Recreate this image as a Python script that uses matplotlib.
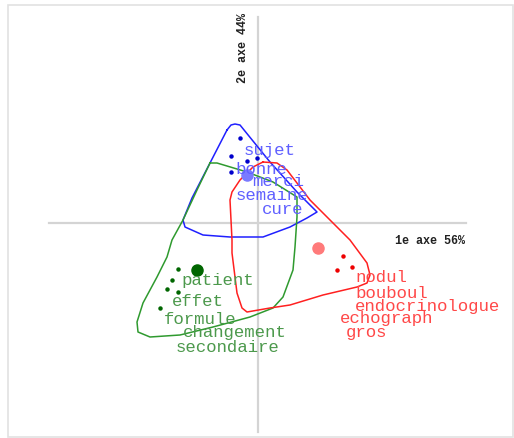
import matplotlib.pyplot as plt
from matplotlib.patches import Rectangle

# factor map coordinates (arbitrary units, origin at the axes cross)
blue_hull_x = [-31, -27, -23, -18, 12, 39, 57, 59, 49, 32, 5, -28, -55, -73, -75, -66, -48]
blue_hull_y = [93, 98, 99, 98, 61, 31, 13, 11, 5, -4, -14, -14, -12, -4, 3, 25, 60]
green_hull_x = [-48, -41, -11, 15, 39, 39, 37, 35, 25, 15, -8, -45, -78, -108, -120, -121, -115, -101, -91, -86, -75, -61]
green_hull_y = [60, 60, 51, 41, 26, 6, -24, -47, -74, -85, -94, -104, -112, -114, -109, -99, -80, -54, -34, -17, 3, 33]
red_hull_x = [5, 19, 29, 52, 72, 92, 109, 112, 109, 99, 65, 32, 12, -11, -16, -21, -26, -26, -28, -26, -18, -5]
red_hull_y = [61, 60, 53, 23, 3, -17, -40, -52, -60, -64, -72, -82, -85, -89, -85, -70, -30, -17, 23, 31, 43, 56]

blue_pts_x = [-18, -27, -11, -1, -27]
blue_pts_y = [85, 67, 62, 65, 51]
green_pts_x = [-80, -86, -91, -80, -98]
green_pts_y = [-46, -57, -66, -69, -85]
red_pts_x = [85, 94, 79]
red_pts_y = [-33, -44, -47]

centres_x = [-11, -61, 60]
centres_y = [48, -47, -25]

blue_words = ["sujet", "bonne", "merci", "semaine", "cure"]
blue_wx = [-14, -23, -6, -22, 4]
blue_wy = [72, 53, 41, 27, 14]
green_words = ["patient", "effet", "formule", "changement", "secondaire"]
green_wx = [-77, -86, -94, -75, -82]
green_wy = [-58, -78, -96, -109, -124]
red_words = ["nodul", "bouboul", "endocrinologue", "echograph", "gros"]
red_wx = [97, 97, 97, 82, 88]
red_wy = [-55, -70, -83, -96, -110]

fig = plt.figure(figsize=(5.14, 4.38), dpi=100)
ax = fig.add_axes([0, 0, 1, 1])
ax.set_xlim(-258, 256)
ax.set_ylim(-215, 223)
ax.axis('off')

fig.patches.append(Rectangle((8 / 514, 1 / 438), 505 / 514, 432 / 438, transform=fig.transFigure,
                             fill=False, edgecolor='#e2e2e2', linewidth=1.2))

ax.plot([-209, 208], [0, 0], color='#d4d4d4', lw=1.6, zorder=1)
ax.plot([0, 0], [206, -209], color='#d4d4d4', lw=1.6, zorder=1)
ax.text(137, -18, "1e axe 56%", family='Liberation Mono', weight='bold', fontsize=8.5,
        ha='left', va='center', color='#222222')
ax.text(-15, 175, "2e axe 44%", family='Liberation Mono', weight='bold', fontsize=8.5,
        ha='center', va='center', rotation=90, color='#222222')

groups = [
    (blue_hull_x, blue_hull_y, blue_pts_x, blue_pts_y, blue_words, blue_wx, blue_wy,
     '#2020ff', '#0000cc', '#7a7aff', '#6060ff'),
    (green_hull_x, green_hull_y, green_pts_x, green_pts_y, green_words, green_wx, green_wy,
     '#2f9a2f', '#006600', '#006600', '#4c994c'),
    (red_hull_x, red_hull_y, red_pts_x, red_pts_y, red_words, red_wx, red_wy,
     '#ff2020', '#ee0000', '#ff7a7a', '#ff4848'),
]

for i, (hx, hy, px, py, words, wx, wy, lc, dc, cc, tc) in enumerate(groups):
    ax.plot(hx + hx[:1], hy + hy[:1], color=lc, lw=1.1, zorder=2)
    ax.plot(px, py, 'o', color=dc, ms=2.2, zorder=3)
    ax.plot(centres_x[i], centres_y[i], 'o', color=cc, ms=8, zorder=3)
    for w, x, y in zip(words, wx, wy):
        ax.text(x, y, w, family='Liberation Mono', fontsize=12.5, color=tc,
                ha='left', va='center', zorder=4)

fig.savefig('out.png', dpi=100)
